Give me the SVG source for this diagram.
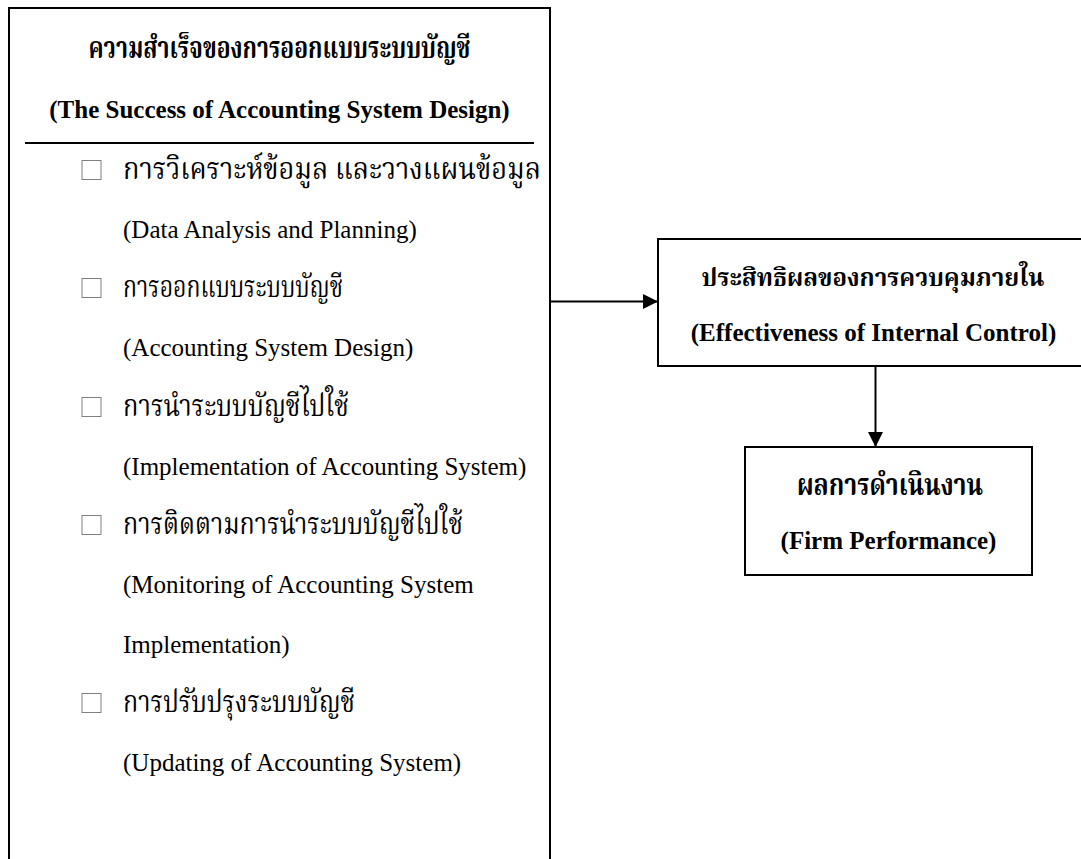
<svg xmlns="http://www.w3.org/2000/svg" width="1081" height="859" viewBox="0 0 1081 859">
<defs>
<style>
.box{fill:#fff;stroke:#000;stroke-width:2}
.t{font-family:"Liberation Serif","Noto Serif Thai","Noto Sans Thai",serif;fill:#000}
.b{font-weight:bold}
.en{font-size:25px}
.th{font-size:30px}
.c{text-anchor:middle}
.chk{fill:#fff;stroke:#808080;stroke-width:1}
.ln{stroke:#000;stroke-width:2;fill:none}
</style>
<marker id="ah" viewBox="0 0 10 10" refX="10" refY="5" markerWidth="7.5" markerHeight="7.5" markerUnits="strokeWidth" orient="auto">
<path d="M0,0 L10,5 L0,10 Z" fill="#000"/>
</marker>
</defs>
<rect width="1081" height="859" fill="#fff"/>
<g id="success">
<path class="box" d="M9,859 V8 H550 V859"/>
<text class="t b th c" x="279.5" y="58" textLength="382" lengthAdjust="spacingAndGlyphs">ความสำเร็จของการออกแบบระบบบัญชี</text>
<text class="t b en c" x="279.5" y="118">(The Success of Accounting System Design)</text>
<line x1="25" y1="143" x2="534" y2="143" stroke="#000" stroke-width="2"/>
<rect class="chk" x="82" y="160.5" width="19" height="19"/>
<text class="t th" x="123" y="179" textLength="418" lengthAdjust="spacingAndGlyphs">การวิเคราะห์ข้อมูล และวางแผนข้อมูล</text>
<text class="t en" x="123" y="238">(Data Analysis and Planning)</text>
<rect class="chk" x="82" y="278.5" width="19" height="19"/>
<text class="t th" x="123" y="297" textLength="220" lengthAdjust="spacingAndGlyphs">การออกแบบระบบบัญชี</text>
<text class="t en" x="123" y="356">(Accounting System Design)</text>
<rect class="chk" x="82" y="397.5" width="19" height="19"/>
<text class="t th" x="123" y="416" textLength="226" lengthAdjust="spacingAndGlyphs">การนำระบบบัญชีไปใช้</text>
<text class="t en" x="123" y="475">(Implementation of Accounting System)</text>
<rect class="chk" x="82" y="515.5" width="19" height="19"/>
<text class="t th" x="123" y="534" textLength="340" lengthAdjust="spacingAndGlyphs">การติดตามการนำระบบบัญชีไปใช้</text>
<text class="t en" x="123" y="593">(Monitoring of Accounting System</text>
<text class="t en" x="123" y="653">Implementation)</text>
<rect class="chk" x="82" y="693.5" width="19" height="19"/>
<text class="t th" x="123" y="712" textLength="232" lengthAdjust="spacingAndGlyphs">การปรับปรุงระบบบัญชี</text>
<text class="t en" x="123" y="771">(Updating of Accounting System)</text>
</g>
<g id="internal-control">
<path class="box" d="M1081,239 H658 V366 H1081"/>
<text class="t b c" x="873" y="286" font-size="24">ประสิทธิผลของการควบคุมภายใน</text>
<text class="t b en c" x="873.5" y="341">(Effectiveness of Internal Control)</text>
</g>
<g id="performance">
<rect class="box" x="745" y="447" width="287" height="128"/>
<text class="t b th c" x="890" y="495" textLength="186" lengthAdjust="spacingAndGlyphs">ผลการดำเนินงาน</text>
<text class="t b en c" x="888.5" y="549">(Firm Performance)</text>
</g>
<g id="connectors">
<line class="ln" x1="550" y1="301.5" x2="658" y2="301.5" marker-end="url(#ah)"/>
<line class="ln" x1="875.5" y1="366" x2="875.5" y2="447" marker-end="url(#ah)"/>
</g>
</svg>
